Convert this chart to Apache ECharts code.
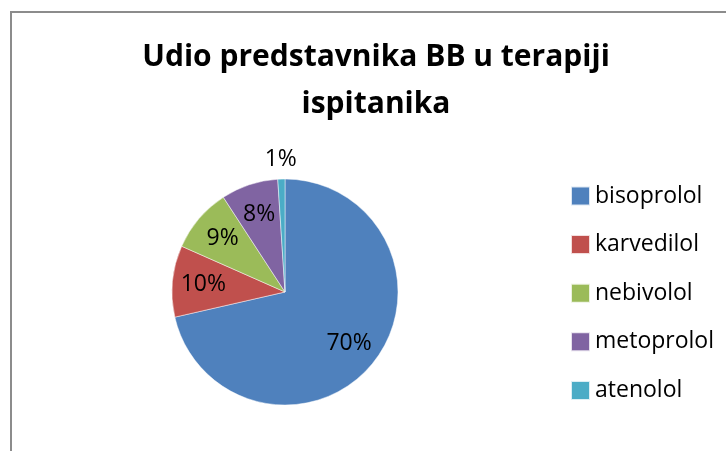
<!DOCTYPE html>
<html>
<head>
<meta charset="utf-8">
<script src="https://cdn.jsdelivr.net/npm/echarts@6/dist/echarts.min.js"></script>
<style>
  html, body { margin: 0; padding: 0; background: #fff; overflow: hidden; }
  #wrap { position: relative; width: 726px; height: 451px; }
  #chart { position: absolute; left: 0; top: 0; width: 726px; height: 451px; }
  /* chart-area frame, only top and left edges are visible */
  #frame {
    position: absolute; left: 10px; top: 11px; width: 760px; height: 480px;
    border-top: 2px solid #8c8c8c; border-left: 2px solid #8c8c8c;
    pointer-events: none;
  }
</style>
</head>
<body>
<div id="wrap">
  <div id="chart"></div>
  <div id="frame"></div>
</div>
<script>
// udio pojedinog beta-blokatora, u %
const drugs = ['bisoprolol', 'karvedilol', 'nebivolol', 'metoprolol', 'atenolol']
const shares = [70, 10, 9, 8, 1]
const colors = ['#4F81BD', '#C0504D', '#9BBB59', '#8064A2', '#4BACC6']

const font = '"Open Sans", "Noto Sans", sans-serif'
const center = [285, 292]
const radius = 113

const chart = echarts.init(document.getElementById('chart'), null, { renderer: 'canvas' })

const pieData = drugs.map((name, i) => ({ name: name, value: shares[i] }))

// label layer: same slices, transparent, ring radius puts inner labels ~0.7r out
const labelData = drugs.map((name, i) => {
  const item = { name: name, value: shares[i] }
  if (shares[i] < 3) {
    item.label = { position: 'outside', distanceToLabelLine: 0 }
    item.labelLine = { show: false, length: 20, length2: 0 }
  }
  return item
})

const option = {
  backgroundColor: '#ffffff',
  color: colors,
  animation: false,
  title: {
    text: 'Udio predstavnika BB u terapiji\nispitanika',
    left: 376,
    top: 34,
    textAlign: 'center',
    padding: 0,
    textStyle: {
      fontFamily: font,
      fontWeight: 'bold',
      fontSize: 30,
      lineHeight: 47,
      color: '#000'
    }
  },
  legend: {
    orient: 'vertical',
    left: 570,
    top: 184,
    padding: 0,
    icon: 'rect',
    itemWidth: 19,
    itemHeight: 19,
    itemGap: 24.6,
    data: drugs,
    textStyle: {
      fontFamily: font,
      fontSize: 23,
      lineHeight: 24,
      color: '#000'
    }
  },
  series: [
    {
      name: 'BB',
      type: 'pie',
      center: center,
      radius: [0, radius],
      startAngle: 90,
      clockwise: true,
      silent: true,
      label: { show: false },
      labelLine: { show: false },
      itemStyle: { borderColor: 'rgba(255,255,255,0.8)', borderWidth: 0.6 },
      data: pieData
    },
    {
      name: 'oznake',
      type: 'pie',
      center: center,
      radius: [45, radius],
      startAngle: 90,
      clockwise: true,
      silent: true,
      avoidLabelOverlap: false,
      itemStyle: { color: 'rgba(0,0,0,0)' },
      label: {
        show: true,
        position: 'inside',
        formatter: '{c}%',
        fontFamily: font,
        fontSize: 23,
        color: '#000'
      },
      labelLine: { show: false },
      labelLayout: (params) => {
        if (shares[params.dataIndex] < 3) return { align: 'center' }
        return {}
      },
      data: labelData
    }
  ]
}

chart.setOption(option)
</script>
</body>
</html>
